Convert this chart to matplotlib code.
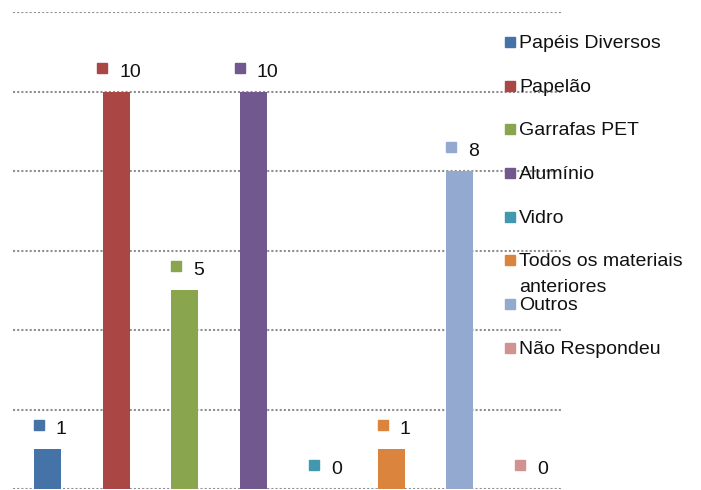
import matplotlib.pyplot as plt
from matplotlib.transforms import offset_copy

plt.rcParams["font.family"] = ["Liberation Sans", "DejaVu Sans"]

categorias = [
    "Papéis Diversos",
    "Papelão",
    "Garrafas PET",
    "Alumínio",
    "Vidro",
    "Todos os materiais\nanteriores",
    "Outros",
    "Não Respondeu",
]
valores = [1, 10, 5, 10, 0, 1, 8, 0]
cores = [
    "#4572A7",
    "#AA4643",
    "#89A54E",
    "#71588F",
    "#4198AF",
    "#DB843D",
    "#93A9CF",
    "#D19392",
]

W, H = 701, 490
fig = plt.figure(figsize=(W / 100, H / 100), dpi=100)
ax = fig.add_axes([13 / W, 1 / H, 550 / W, 477 / H])

x = list(range(len(categorias)))
ax.bar(x, valores, width=0.39, color=cores, zorder=2)

ax.set_xlim(-0.5, len(categorias) - 0.5)
ax.set_ylim(0, 12)
ax.set_yticks(range(0, 13, 2))
ax.yaxis.grid(True, color="#8f8f8f", linestyle=(0, (1, 1)), linewidth=1.5, zorder=0)
ax.tick_params(left=False, bottom=False, labelleft=False, labelbottom=False)
for s in ax.spines.values():
    s.set_visible(False)

# rótulos de dados: quadrado com a cor da série + valor
for xi, v, c in zip(x, valores, cores):
    txt = str(v)
    largura = 10 + 12 + 11 * len(txt)
    esq = 3 - largura / 2
    tr = offset_copy(ax.transData, fig=fig, x=esq + 5, y=24, units="dots")
    ax.plot([xi], [v], marker="s", ms=7.2, color=c, transform=tr, clip_on=False, zorder=3)
    ax.annotate(txt, (xi, v), xytext=(esq + 22, 15), textcoords="offset pixels",
                ha="left", va="baseline", fontsize=14, color="#111111")

# legenda à direita (texto de várias linhas transborda para baixo)
for i, (nome, c) in enumerate(zip(categorias, cores)):
    yc = 41 + i * 43.7
    fig.patches.append(plt.Rectangle((505 / W, 1 - (yc + 6) / H), 10 / W, 10 / H,
                                     transform=fig.transFigure, color=c, figure=fig))
    for k, linha in enumerate(nome.split("\n")):
        fig.text(519 / W, 1 - (yc + 7 + 25 * k) / H, linha, ha="left", va="baseline",
                 fontsize=14, color="#111111")

fig.savefig("out.png", dpi=100)
